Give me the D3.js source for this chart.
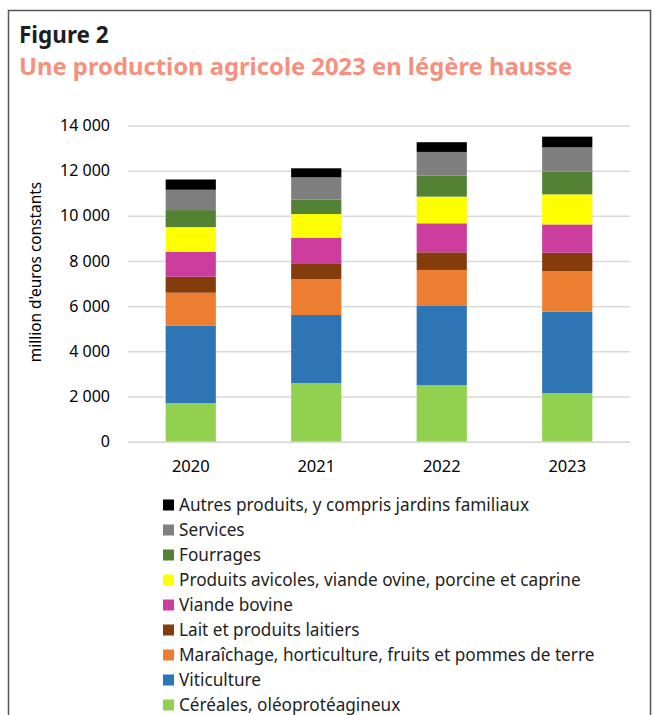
<!DOCTYPE html>
<html>
<head>
<meta charset="utf-8">
<script src="https://cdn.jsdelivr.net/npm/d3@7"></script>
<style>
  body { margin: 0; background: #fff; }
  svg { font-family: "Noto Sans", sans-serif; }
</style>
</head>
<body>
<div id="chart"></div>
<script>
// years on x axis
var years = ["2020", "2021", "2022", "2023"];
// series, bottom to top
var seriesNames = [
  "Céréales, oléoprotéagineux",
  "Viticulture",
  "Maraîchage, horticulture, fruits et pommes de terre",
  "Lait et produits laitiers",
  "Viande bovine",
  "Produits avicoles, viande ovine, porcine et caprine",
  "Fourrages",
  "Services",
  "Autres produits, y compris jardins familiaux"
];
var cereales   = [1710, 2600, 2510, 2155];
var viticulture = [3425, 3010, 3500, 3600];
var maraichage = [1460, 1580, 1595, 1800];
var lait       = [710, 710, 780, 810];
var bovine     = [1105, 1135, 1285, 1255];
var avicoles   = [1090, 1045, 1180, 1330];
var fourrages  = [755, 635, 930, 1005];
var services   = [900, 990, 1050, 1075];
var autres     = [455, 400, 430, 475];
var colors = ["#92d050", "#2e75b6", "#ed7d31", "#843c0c", "#cc3d9e", "#ffff00", "#548235", "#7f7f7f", "#000000"];
var yTicks = [0, 2000, 4000, 6000, 8000, 10000, 12000, 14000];

async function draw() {
    var w = 654, h = 715;
    var svg = d3.select("#chart").append("svg")
        .attr("width", w)
        .attr("height", h);

    // frame
    svg.append("rect")
        .attr("x", 8.5).attr("y", 10.5)
        .attr("width", 642).attr("height", 720)
        .attr("fill", "none")
        .attr("stroke", "#555")
        .attr("stroke-width", 1.5);

    svg.append("text")
        .attr("x", 19).attr("y", 43)
        .attr("font-size", 22.5).attr("font-weight", "bold")
        .attr("fill", "#1e1e1e")
        .text("Figure 2");
    svg.append("text")
        .attr("x", 19).attr("y", 75)
        .attr("font-size", 23.8).attr("font-weight", "bold")
        .attr("fill", "#f88f7c")
        .text("Une production agricole 2023 en légère hausse");

    var all = [cereales, viticulture, maraichage, lait, bovine, avicoles, fourrages, services, autres];
    var data = years.map(function(y, i) {
        var row = { year: y };
        seriesNames.forEach(function(s, k) { row[s] = all[k][i]; });
        return row;
    });
    var stacked = d3.stack().keys(seriesNames)(data);

    var x = d3.scaleBand()
        .domain(years)
        .range([128, 630])
        .paddingInner(0.6)
        .paddingOuter(0.3);
    var y = d3.scaleLinear()
        .domain([0, 14000])
        .range([441.7, 125.5]);

    var fmt = function(d) { return d3.format(",")(d).replace(",", " "); };

    // gridlines + y labels
    var yAxis = svg.append("g")
        .attr("transform", "translate(128,0)")
        .call(d3.axisLeft(y).tickValues(yTicks).tickSize(-502).tickPadding(18).tickFormat(fmt));
    yAxis.select(".domain").remove();
    yAxis.selectAll(".tick line").attr("stroke", "#d9d9d9").attr("stroke-width", 1.5);
    yAxis.selectAll(".tick text").attr("font-size", 16).attr("fill", "#000")
        .attr("font-family", "Noto Sans, sans-serif");

    svg.append("text")
        .attr("transform", "translate(41,272) rotate(-90)")
        .attr("text-anchor", "middle")
        .attr("font-size", 15.4)
        .text("million d'euros constants");

    // bars
    svg.append("g").selectAll("g")
        .data(stacked)
        .enter().append("g")
        .attr("fill", function(d, i) { return colors[i]; })
        .selectAll("rect")
        .data(function(d) { return d; })
        .enter().append("rect")
        .attr("x", function(d) { return x(d.data.year); })
        .attr("y", function(d) { return y(d[1]); })
        .attr("width", x.bandwidth())
        .attr("height", function(d) { return y(d[0]) - y(d[1]); });

    // x axis
    var xAxis = svg.append("g")
        .attr("transform", "translate(0,441.7)")
        .call(d3.axisBottom(x).tickSize(0).tickPadding(19));
    xAxis.select(".domain").attr("stroke", "#d9d9d9").attr("stroke-width", 1.5);
    xAxis.selectAll(".tick text").attr("font-size", 16.5).attr("fill", "#000")
        .attr("font-family", "Noto Sans, sans-serif");

    // legend, top to bottom
    var legendOrder = seriesNames.map(function(s, i) { return i; }).reverse();
    var leg = svg.append("g").selectAll("g")
        .data(legendOrder)
        .enter().append("g")
        .attr("transform", function(d, j) { return "translate(163," + (505 + j * 25) + ")"; });
    leg.append("rect")
        .attr("x", 0).attr("y", -5.5)
        .attr("width", 11).attr("height", 11)
        .attr("fill", function(d) { return colors[d]; });
    leg.append("text")
        .attr("x", 16).attr("y", 6)
        .attr("font-size", 17.2)
        .attr("fill", "#1e1e1e")
        .text(function(d) { return seriesNames[d]; });
}
window.onload = draw;
</script>
</body>
</html>
